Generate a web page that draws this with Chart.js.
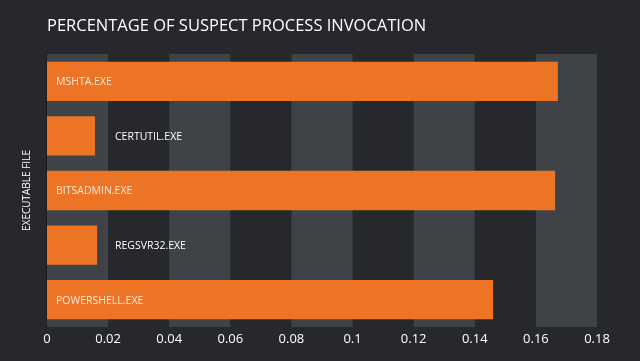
<!DOCTYPE html>
<html>
<head>
<meta charset="utf-8">
<script src="https://cdn.jsdelivr.net/npm/chart.js@4"></script>
<style>
  html, body { margin: 0; padding: 0; background: #26282c; }
  #wrap { width: 640px; height: 361px; }
</style>
</head>
<body>
<div id="wrap"><canvas id="barChart" width="640" height="361"></canvas></div>
<script>
// Chart data
const files = ['MSHTA.EXE', 'CERTUTIL.EXE', 'BITSADMIN.EXE', 'REGSVR32.EXE', 'POWERSHELL.EXE'];
const shares = [0.1672, 0.0157, 0.1663, 0.0164, 0.146];
const xTicks = [0, 0.02, 0.04, 0.06, 0.08, 0.1, 0.12, 0.14, 0.16, 0.18];

const chartTitle = 'PERCENTAGE OF SUSPECT PROCESS INVOCATION';
const yTitle = 'EXECUTABLE FILE';
const fontFamily = '"Open Sans", sans-serif';

// Alternating column bands behind the bars
const bandPlugin = {
  id: 'bands',
  beforeDatasetsDraw(chart) {
    const { ctx, chartArea, scales } = chart;
    ctx.save();
    ctx.fillStyle = '#3f4348';
    for (let i = 0; i < xTicks.length - 1; i += 2) {
      const x1 = scales.x.getPixelForValue(xTicks[i]);
      const x2 = scales.x.getPixelForValue(xTicks[i + 1]);
      ctx.fillRect(x1, chartArea.top, x2 - x1, chartArea.bottom - chartArea.top);
    }
    ctx.restore();
  }
};

// Title, axis title and bar labels
const textPlugin = {
  id: 'texts',
  afterDatasetsDraw(chart) {
    const { ctx, chartArea } = chart;
    ctx.save();
    ctx.fillStyle = '#ffffff';
    ctx.textBaseline = 'middle';
    ctx.font = '16.5px ' + fontFamily;
    ctx.fillText(chartTitle, chartArea.left, 26);

    ctx.font = '10px ' + fontFamily;
    ctx.translate(27, (chartArea.top + chartArea.bottom) / 2);
    ctx.rotate(-Math.PI / 2);
    ctx.textAlign = 'center';
    ctx.fillText(yTitle, 0, 0);
    ctx.restore();

    // labels of short bars sit in one column to the right
    const meta = chart.getDatasetMeta(0);
    const shortEnd = Math.min(...meta.data.map(b => b.x));
    ctx.save();
    ctx.font = '10.5px ' + fontFamily;
    ctx.textBaseline = 'middle';
    meta.data.forEach((bar, i) => {
      const wide = bar.x - chartArea.left > 100;
      if (wide) {
        ctx.fillStyle = '#fde9d8';
        ctx.fillText(files[i], chartArea.left + 9, bar.y + 1);
      } else {
        ctx.fillStyle = '#ffffff';
        ctx.fillText(files[i], shortEnd + 20, bar.y + 1);
      }
    });
    ctx.restore();
  }
};

document.addEventListener('DOMContentLoaded', () => {
  const ctx = document.getElementById('barChart').getContext('2d');
  new Chart(ctx, {
    type: 'bar',
    data: {
      labels: files,
      datasets: [{
        label: 'Share',
        data: shares,
        backgroundColor: '#ec7424',
        barPercentage: 0.72,
        categoryPercentage: 1
      }]
    },
    options: {
      indexAxis: 'y',
      responsive: false,
      animation: false,
      devicePixelRatio: 1,
      layout: { padding: { top: 54, right: 43, left: 0, bottom: 0 } },
      plugins: { legend: { display: false }, tooltip: { enabled: false } },
      scales: {
        x: {
          min: 0,
          max: 0.18,
          afterFit(scale) { scale.height = 34; },
          afterBuildTicks(scale) { scale.ticks = xTicks.map(v => ({ value: v })); },
          grid: { display: false, drawTicks: false },
          border: { display: false },
          ticks: {
            color: '#ffffff',
            font: { family: fontFamily, size: 13 },
            padding: 4,
            callback: v => String(Math.round(v * 100) / 100)
          }
        },
        y: {
          afterFit(scale) { scale.width = 47; },
          grid: { display: false, drawTicks: false },
          border: { display: true, color: '#1d1e21', width: 2 },
          ticks: { display: false }
        }
      }
    },
    plugins: [bandPlugin, textPlugin]
  });
});
</script>
</body>
</html>
